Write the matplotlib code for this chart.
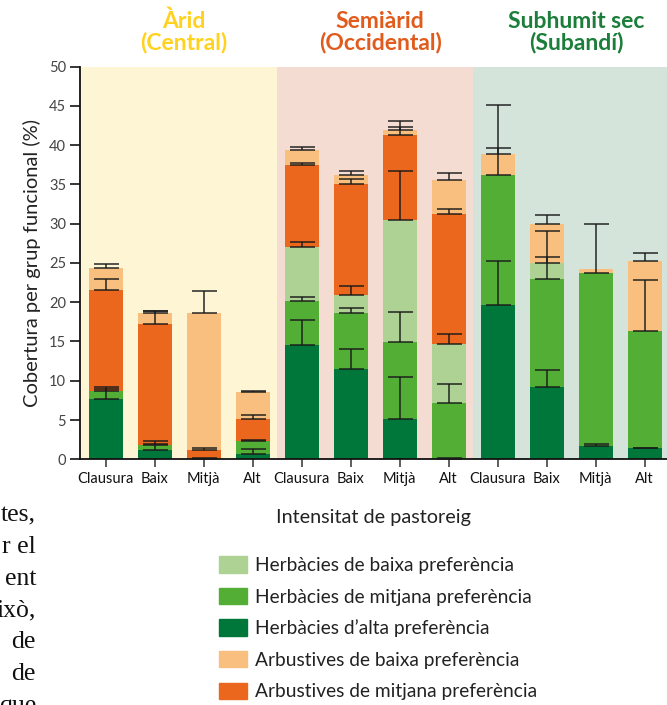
import numpy as np
import matplotlib.pyplot as plt
from matplotlib.patches import Patch
from matplotlib.transforms import blended_transform_factory

# categories (intensitat de pastoreig) for the three regions
categories = ['Clausura', 'Baix', 'Mitjà', 'Alt'] * 3
region_line1 = ['Àrid', 'Semiàrid', 'Subhumit sec']
region_line2 = ['(Central)', '(Occidental)', '(Subandí)']

# cover of each functional group (%) - stacked bottom to top
herb_alta = [7.7, 1.2, 0.0, 0.7, 14.5, 11.5, 5.1, 0.0, 19.7, 9.2, 1.7, 1.4]
herb_mitjana = [1.0, 0.6, 0.0, 1.6, 5.7, 7.1, 9.8, 7.2, 16.5, 13.8, 22.0, 14.9]
herb_baixa = [0.0, 0.0, 0.0, 0.0, 6.8, 2.3, 15.6, 7.5, 0.0, 2.0, 0.0, 0.0]
arb_mitjana = [12.9, 15.4, 1.2, 2.8, 10.4, 14.2, 10.8, 16.5, 0.0, 0.0, 0.0, 0.0]
arb_baixa = [2.7, 1.4, 17.4, 3.5, 2.0, 1.1, 0.6, 4.4, 2.7, 5.0, 0.5, 9.0]

# upper error (standard error) of each group
err_herb_alta = [1.3, 0.8, 0.15, 0.6, 3.2, 2.6, 5.4, 0.15, 5.5, 2.2, 0.3, 0.1]
err_herb_mitjana = [0.5, 0.5, 0.0, 0.1, 0.5, 0.6, 3.9, 2.4, 3.4, 2.7, 6.2, 6.5]
err_herb_baixa = [0.0, 0.0, 0.0, 0.0, 0.6, 1.1, 6.2, 1.3, 0.0, 4.1, 0.0, 0.0]
err_arb_mitjana = [1.3, 1.7, 0.3, 0.6, 0.3, 0.6, 1.0, 0.7, 0.0, 0.0, 0.0, 0.0]
err_arb_baixa = [0.6, 0.3, 2.8, 0.15, 0.4, 0.5, 1.1, 0.9, 6.2, 1.1, 0.0, 1.0]

# left page fragment (text of the book page)
page_lines = ['tes,', 'r el', 'ent', 'ixò,', 'de', 'de', 'que']

# colours
c_herb_alta = '#00773A'
c_herb_mitjana = '#52AE34'
c_herb_baixa = '#ADD294'
c_arb_mitjana = '#EB671D'
c_arb_baixa = '#F9BF7F'
region_colors = ['#FFD21F', '#E05B1C', '#1C7E3A']
region_bg = ['#FEF5D5', '#F5DCD2', '#D4E4DA']

plt.rcParams['font.family'] = ['Lato', 'DejaVu Sans']

fig = plt.figure(figsize=(6.67, 7.05), dpi=100)
ax = fig.add_axes([80 / 667, 245.7 / 705, 587 / 667, 392.8 / 705])

x = np.arange(len(categories))
xmin, xmax = -0.525, 11.455

# region backgrounds
edges = [xmin, 3.5, 7.5, xmax + 1]
for i in range(3):
    ax.axvspan(edges[i], edges[i + 1], color=region_bg[i], lw=0, zorder=0)

series = [
    (herb_alta, err_herb_alta, c_herb_alta),
    (herb_mitjana, err_herb_mitjana, c_herb_mitjana),
    (herb_baixa, err_herb_baixa, c_herb_baixa),
    (arb_mitjana, err_arb_mitjana, c_arb_mitjana),
    (arb_baixa, err_arb_baixa, c_arb_baixa),
]

width = 0.69
bottom = np.zeros(len(x))
tops = []
for vals, errs, col in series:
    vals = np.array(vals)
    ax.bar(x, vals, width, bottom=bottom, color=col, lw=0, zorder=2)
    bottom = bottom + vals
    tops.append(bottom.copy())

# error bars (upper only) on top of each segment
for (vals, errs, col), top in zip(series, tops):
    errs = np.array(errs)
    m = errs > 0
    ax.errorbar(x[m], top[m], yerr=[np.zeros(m.sum()), errs[m]], fmt='none',
                ecolor='#1a1a1a', elinewidth=1.3, capsize=9, capthick=1.3,
                alpha=0.8, zorder=3)

ax.set_xlim(xmin, xmax)
ax.set_ylim(0, 50)
ax.set_yticks(np.arange(0, 51, 5))
ax.set_xticks(x)
ax.set_xticklabels(categories, fontsize=10.5, color='#111111')
ax.tick_params(axis='y', labelsize=10.5, labelcolor='#444444', length=7, width=1.1, pad=3)
ax.tick_params(axis='x', length=6, width=1.1, pad=3, color='#333333')
for s in ['top', 'right']:
    ax.spines[s].set_visible(False)
for s in ['left', 'bottom']:
    ax.spines[s].set_linewidth(1.3)
    ax.spines[s].set_color('#111111')

ax.set_ylabel('Cobertura per grup funcional (%)', fontsize=14.5, color='#222222', labelpad=6)
fig.text(374 / 667, 1 - 523 / 705, 'Intensitat de pastoreig', fontsize=14.3,
         color='#222222', ha='center', va='baseline')

# region titles
tr = blended_transform_factory(ax.transData, fig.transFigure)
for i in range(3):
    cx = 4 * i + 1.5 + 0.1
    ax.text(cx, 1 - 28 / 705, region_line1[i], transform=tr, ha='center', va='baseline',
            fontsize=16.5, fontweight='bold', color=region_colors[i])
    ax.text(cx, 1 - 49 / 705, region_line2[i], transform=tr, ha='center', va='baseline',
            fontsize=16.5, fontweight='bold', color=region_colors[i])

# legend
handles = [Patch(color=c_herb_baixa), Patch(color=c_herb_mitjana), Patch(color=c_herb_alta),
           Patch(color=c_arb_baixa), Patch(color=c_arb_mitjana)]
labels = ['Herbàcies de baixa preferència', 'Herbàcies de mitjana preferència',
          'Herbàcies d\u2019alta preferència', 'Arbustives de baixa preferència',
          'Arbustives de mitjana preferència']
fig.legend(handles, labels, loc='upper left', bbox_to_anchor=(219 / 667, 1 - 556 / 705),
           frameon=False, fontsize=13.8, borderpad=0, borderaxespad=0,
           handlelength=1.47, handleheight=0.95, handletextpad=0.42,
           labelspacing=0.72, labelcolor='#222222')

# fragment of the book text on the left
for k, line in enumerate(page_lines):
    fig.text(36 / 667, 1 - (521.7 + 31.7 * k) / 705, line, ha='right', va='baseline',
             fontsize=18.5, family='Liberation Serif', color='#111111')

fig.savefig('out.png', dpi=100)
